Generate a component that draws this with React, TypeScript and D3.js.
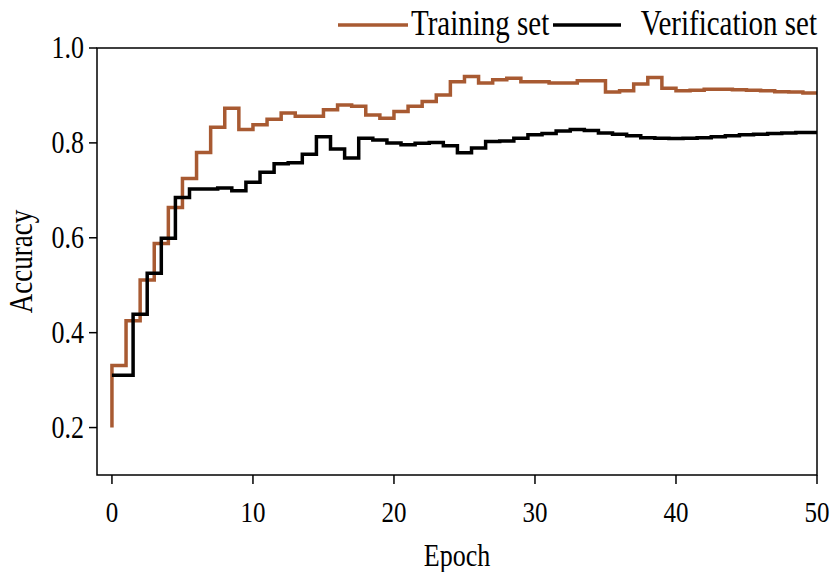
import React from "react";
import * as d3 from "d3";

const epochs = [
  0, 1, 2, 3, 4, 5, 6, 7, 8, 9, 10, 11, 12, 13, 14, 15, 16, 17, 18, 19, 20,
  21, 22, 23, 24, 25, 26, 27, 28, 29, 30, 31, 32, 33, 34, 35, 36, 37, 38, 39,
  40, 41, 42, 43, 44, 45, 46, 47, 48, 49, 50,
];

// training accuracy, level reached at each epoch
const trainAcc = [
  0.2, 0.331, 0.425, 0.511, 0.588, 0.664, 0.725, 0.78, 0.833, 0.873, 0.828,
  0.838, 0.85, 0.863, 0.856, 0.856, 0.87, 0.88, 0.877, 0.859, 0.852, 0.866,
  0.877, 0.887, 0.901, 0.929, 0.94, 0.926, 0.933, 0.936, 0.929, 0.929, 0.926,
  0.926, 0.931, 0.931, 0.907, 0.91, 0.924, 0.938, 0.915, 0.91, 0.911, 0.913,
  0.913, 0.912, 0.911, 0.91, 0.908, 0.907, 0.905,
];

const valAcc = [
  0.31, 0.31, 0.439, 0.525, 0.599, 0.685, 0.703, 0.703, 0.705, 0.699, 0.717,
  0.738, 0.756, 0.758, 0.776, 0.813, 0.787, 0.768, 0.81, 0.806, 0.8, 0.796,
  0.799, 0.801, 0.794, 0.779, 0.789, 0.803, 0.804, 0.81, 0.817, 0.82, 0.825,
  0.828, 0.826, 0.821, 0.818, 0.815, 0.811, 0.81, 0.809, 0.81, 0.811, 0.813,
  0.815, 0.817, 0.818, 0.82, 0.821, 0.822, 0.822,
];

const xTicks = [0, 10, 20, 30, 40, 50];
const yTicks = [0.2, 0.4, 0.6, 0.8, 1.0];

const W = 834;
const H = 572;
const left = 97, right = 817, top = 48, bottom = 475;
const font = "'Liberation Serif', 'Times New Roman', serif";
const orange = "#a85a32";
const stretch = 1.22; // the original text is a bit taller than wide

// text drawn with a small vertical stretch
const Txt = ({ x, y, size, anchor = "start", rotate = 0, children }: any) => (
  <text
    transform={`translate(${x},${y}) rotate(${rotate}) scale(1,${stretch})`}
    textAnchor={anchor}
    fontSize={size}
  >
    {children}
  </text>
);

export default function App() {
  const x = d3.scaleLinear().domain([-1.06, 50]).range([left, right]);
  const y = d3.scaleLinear().domain([0.1, 1.0]).range([bottom, top]);

  const trainLine = d3
    .line<number>()
    .x((_, i) => x(epochs[i]))
    .y((d) => y(d))
    .curve(d3.curveStepBefore);

  const valLine = d3
    .line<number>()
    .x((_, i) => x(epochs[i]))
    .y((d) => y(d))
    .curve(d3.curveStep);

  return (
    <svg
      width={W}
      height={H}
      viewBox={`0 0 ${W} ${H}`}
      style={{ position: "absolute", left: 0, top: 0, background: "#fff" }}
      fontFamily={font}
    >
      <path d={trainLine(trainAcc) || ""} fill="none" stroke={orange} strokeWidth={3.5} />
      <path d={valLine(valAcc) || ""} fill="none" stroke="#000" strokeWidth={3.5} />

      <rect
        x={left}
        y={top}
        width={right - left}
        height={bottom - top}
        fill="none"
        stroke="#000"
        strokeWidth={1.5}
      />

      {xTicks.map((t) => (
        <g key={t}>
          <line x1={x(t)} x2={x(t)} y1={bottom} y2={bottom + 9} stroke="#000" strokeWidth={1.5} />
          <Txt x={x(t)} y={bottom + 47} size={25} anchor="middle">
            {t}
          </Txt>
        </g>
      ))}

      {yTicks.map((t) => (
        <g key={t}>
          <line x1={left - 8} x2={left} y1={y(t)} y2={y(t)} stroke="#000" strokeWidth={1.5} />
          <Txt x={left - 13} y={y(t) + 10} size={26} anchor="end">
            {t.toFixed(1)}
          </Txt>
        </g>
      ))}

      <Txt x={(left + right) / 2} y={566} size={26} anchor="middle">
        Epoch
      </Txt>
      <Txt x={32} y={(top + bottom) / 2} size={27} anchor="middle" rotate={-90}>
        Accuracy
      </Txt>

      <g>
        <line x1={338} x2={408} y1={25} y2={25} stroke={orange} strokeWidth={3.5} />
        <Txt x={411} y={35} size={29}>
          Training set
        </Txt>
        <line x1={553} x2={621} y1={25} y2={25} stroke="#000" strokeWidth={3.5} />
        <Txt x={817} y={35} size={29} anchor="end">
          Verification set
        </Txt>
      </g>
    </svg>
  );
}
